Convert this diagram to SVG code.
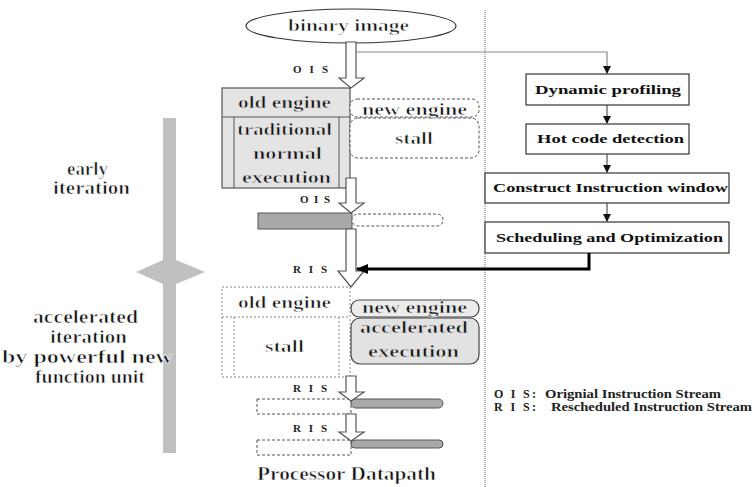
<svg xmlns="http://www.w3.org/2000/svg" width="754" height="487" viewBox="0 0 754 487">
  <style>
    text { font-family: 'Liberation Serif', 'Times New Roman', serif; }
    /* body text: bold face thinned by a light halo in the background colour */
    .reg { font-weight: bold; fill: #111; stroke: #fff; stroke-width: 0.6; stroke-linejoin: round; }
    .on-g1 { stroke: #e4e4e4; }
    .on-g2 { stroke: #ececec; }
    .on-g3 { stroke: #e2e2e2; }
    .lbl { font-weight: bold; font-size: 11px; fill: #222; }
    .step { font-weight: bold; font-size: 13px; fill: #111; }
    .legend { font-weight: bold; font-size: 12px; fill: #222; }
    .hollow { fill: #fff; stroke: #555; stroke-width: 1.2; }
    .box { fill: #fff; stroke: #333; stroke-width: 1.2; }
    .dash { fill: #fff; stroke: #555; stroke-width: 1; stroke-dasharray: 3 2; }
    .dot { fill: none; stroke: #888; stroke-width: 1; stroke-dasharray: 2 2; }
    .bar { fill: #a8a8a8; stroke: #555; stroke-width: 1; }
  </style>
  <defs>
    <marker id="tri" markerWidth="8" markerHeight="8" refX="7" refY="4" orient="auto" markerUnits="userSpaceOnUse">
      <path d="M0,0 L8,4 L0,8 Z" fill="#111"/>
    </marker>
    <marker id="triBig" markerWidth="12" markerHeight="10" refX="11" refY="5" orient="auto" markerUnits="userSpaceOnUse">
      <path d="M0,0 L12,5 L0,10 Z" fill="#000"/>
    </marker>
  </defs>

  <rect width="754" height="487" fill="#fff"/>

  <!-- phase bar on the left -->
  <g id="phase-bar">
    <rect x="163" y="118" width="13" height="335" fill="#c0c0c0"/>
    <polygon points="136,272 163,260 176,260 205,272 176,284 163,284" fill="#c0c0c0"/>
    <text class="reg" font-size="18" x="67" y="175" textLength="41" lengthAdjust="spacingAndGlyphs">early</text>
    <text class="reg" font-size="18" x="53" y="194" textLength="77" lengthAdjust="spacingAndGlyphs">iteration</text>
    <text class="reg" font-size="18" x="33" y="323" textLength="105" lengthAdjust="spacingAndGlyphs">accelerated</text>
    <text class="reg" font-size="18" x="50" y="343" textLength="77" lengthAdjust="spacingAndGlyphs">iteration</text>
    <text class="reg" font-size="18" x="2" y="363" textLength="171" lengthAdjust="spacingAndGlyphs">by powerful new</text>
    <text class="reg" font-size="18" x="35" y="383" textLength="110" lengthAdjust="spacingAndGlyphs">function unit</text>
  </g>

  <!-- separator -->
  <line x1="485" y1="10" x2="485" y2="487" stroke="#666" stroke-width="1" stroke-dasharray="1 1"/>

  <g id="binary-image">
    <ellipse cx="351" cy="26" rx="105" ry="17" fill="#fff" stroke="#333" stroke-width="1.2"/>
    <text class="reg" font-size="17" x="288" y="31" textLength="121" lengthAdjust="spacingAndGlyphs">binary image</text>
  </g>

  <!-- early iteration: old engine running -->
  <g id="old-engine-early">
    <rect x="222" y="88" width="128" height="100" fill="#e4e4e4" stroke="#555" stroke-width="1.2"/>
    <line x1="222" y1="117" x2="350" y2="117" stroke="#555" stroke-width="1.2"/>
    <line x1="234" y1="117" x2="234" y2="188" stroke="#555" stroke-width="1"/>
    <line x1="339" y1="117" x2="339" y2="188" stroke="#555" stroke-width="1"/>
    <text class="reg on-g1" font-size="17" x="238" y="108" textLength="93" lengthAdjust="spacingAndGlyphs">old engine</text>
    <text class="reg on-g1" font-size="17" x="237" y="135" textLength="95" lengthAdjust="spacingAndGlyphs">traditional</text>
    <text class="reg on-g1" font-size="17" x="253" y="159" textLength="69" lengthAdjust="spacingAndGlyphs">normal</text>
    <text class="reg on-g1" font-size="17" x="242" y="183" textLength="89" lengthAdjust="spacingAndGlyphs">execution</text>
  </g>

  <g id="new-engine-early">
    <rect class="dash" x="350" y="99" width="129" height="18" rx="7"/>
    <rect class="dash" x="350" y="118" width="129" height="40" rx="8"/>
    <text class="reg" font-size="17" x="362" y="115" textLength="105" lengthAdjust="spacingAndGlyphs">new engine</text>
    <text class="reg" font-size="17" x="395" y="144" textLength="38" lengthAdjust="spacingAndGlyphs">stall</text>
  </g>

  <g id="slot-1">
    <rect class="bar" x="258" y="213" width="94" height="16"/>
    <rect class="dash" x="352" y="214" width="91" height="12" rx="6"/>
  </g>

  <!-- accelerated iteration: new engine running -->
  <g id="old-engine-late">
    <rect class="dot" x="222" y="287" width="128" height="90"/>
    <line class="dot" x1="222" y1="317" x2="350" y2="317" stroke="#aaa" stroke-dasharray="6 2"/>
    <line class="dot" x1="234" y1="317" x2="234" y2="377"/>
    <line class="dot" x1="339" y1="317" x2="339" y2="377"/>
    <text class="reg" font-size="17" x="238" y="308" textLength="93" lengthAdjust="spacingAndGlyphs">old engine</text>
    <text class="reg" font-size="17" x="265" y="352" textLength="39" lengthAdjust="spacingAndGlyphs">stall</text>
  </g>

  <g id="new-engine-late">
    <rect x="351" y="300" width="128" height="17" rx="8" fill="#ececec" stroke="#444" stroke-width="1.2"/>
    <rect x="351" y="318" width="128" height="46" rx="9" fill="#e2e2e2" stroke="#444" stroke-width="1.2"/>
    <text class="reg on-g2" font-size="17" x="362" y="313" textLength="105" lengthAdjust="spacingAndGlyphs">new engine</text>
    <text class="reg on-g3" font-size="17" x="360" y="333" textLength="108" lengthAdjust="spacingAndGlyphs">accelerated</text>
    <text class="reg on-g3" font-size="17" x="368" y="357" textLength="91" lengthAdjust="spacingAndGlyphs">execution</text>
  </g>

  <g id="slot-2">
    <rect class="dash" x="257" y="399" width="94" height="15"/>
    <rect class="bar" x="351" y="399" width="92" height="9" rx="4.5"/>
  </g>

  <g id="slot-3">
    <rect class="dash" x="257" y="440" width="94" height="15"/>
    <rect class="bar" x="351" y="440" width="92" height="8" rx="4"/>
  </g>

  <text class="reg" font-size="19" x="257" y="480" textLength="179" lengthAdjust="spacingAndGlyphs">Processor Datapath</text>

  <!-- optimizer pipeline -->
  <g id="dynamic-profiling">
    <rect class="box" x="526" y="74" width="163" height="31"/>
    <text class="step" x="535" y="94" textLength="146" lengthAdjust="spacingAndGlyphs">Dynamic  profiling</text>
  </g>
  <g id="hot-code-detection">
    <rect class="box" x="526" y="124" width="163" height="30"/>
    <text class="step" x="537" y="143" textLength="147" lengthAdjust="spacingAndGlyphs">Hot code detection</text>
  </g>
  <g id="construct-window">
    <rect class="box" x="485" y="173" width="244" height="30"/>
    <text class="step" x="493" y="192" textLength="235" lengthAdjust="spacingAndGlyphs">Construct Instruction window</text>
  </g>
  <g id="scheduling">
    <rect class="box" x="485" y="222" width="244" height="31"/>
    <text class="step" x="496" y="242" textLength="227" lengthAdjust="spacingAndGlyphs">Scheduling and Optimization</text>
  </g>

  <g id="connectors">
    <!-- instruction stream arrows -->
    <polygon class="hollow" points="346,42 356,42 356,78 364,78 351,88 339,78 346,78"/>
    <polygon class="hollow" points="346,178 356,178 356,203 364,203 351,213 339,203 346,203"/>
    <polygon class="hollow" points="346,229 356,229 356,271 364,271 351,287 338,271 346,271"/>
    <polygon class="hollow" points="346,376 356,376 356,392 364,392 351,401 339,392 346,392"/>
    <polygon class="hollow" points="346,414 356,414 356,432 364,432 351,441 339,432 346,432"/>

    <text class="lbl" x="293" y="73" textLength="35" lengthAdjust="spacing">O I S</text>
    <text class="lbl" x="300" y="203" textLength="30" lengthAdjust="spacing">O I S</text>
    <text class="lbl" x="293" y="273" textLength="34" lengthAdjust="spacing">R I S</text>
    <text class="lbl" x="293" y="392" textLength="34" lengthAdjust="spacing">R I S</text>
    <text class="lbl" x="293" y="432" textLength="34" lengthAdjust="spacing">R I S</text>

    <!-- tap from binary image into the profiler -->
    <polyline points="356,52 607,52 607,73" fill="none" stroke="#888" stroke-width="1.2" marker-end="url(#tri)"/>
    <line x1="607" y1="105" x2="607" y2="123" stroke="#333" stroke-width="1" marker-end="url(#tri)"/>
    <line x1="607" y1="154" x2="607" y2="172" stroke="#333" stroke-width="1" marker-end="url(#tri)"/>
    <line x1="607" y1="203" x2="607" y2="221" stroke="#333" stroke-width="1" marker-end="url(#tri)"/>

    <!-- rescheduled stream fed back -->
    <polyline points="589,253 589,269 357,269" fill="none" stroke="#000" stroke-width="3" marker-end="url(#triBig)"/>
  </g>

  <g id="legend">
    <text class="legend" x="494" y="398" textLength="42" lengthAdjust="spacing">O I S:</text>
    <text class="legend" x="545" y="398" textLength="176" lengthAdjust="spacingAndGlyphs">Orignial Instruction Stream</text>
    <text class="legend" x="494" y="411" textLength="42" lengthAdjust="spacing">R I S:</text>
    <text class="legend" x="551" y="411" textLength="201" lengthAdjust="spacingAndGlyphs">Rescheduled Instruction Stream</text>
  </g>
</svg>
